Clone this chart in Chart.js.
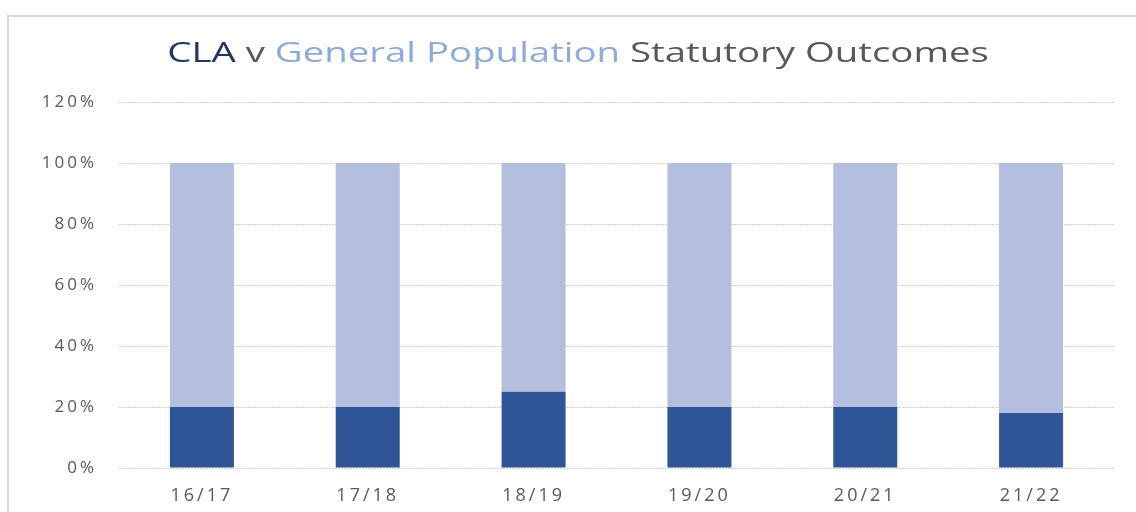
<!DOCTYPE html>
<html>
<head>
<meta charset="utf-8">
<script src="https://cdn.jsdelivr.net/npm/chart.js@4/dist/chart.umd.min.js"></script>
<style>
  html, body { margin: 0; padding: 0; background: #ffffff; }
  #wrap { position: relative; width: 1136px; height: 512px; overflow: hidden; background: #fff; }
  #frame { position: absolute; left: 7px; top: 15px; width: 1200px; height: 600px; border-top: 2px solid #d9d9d9; border-left: 2px solid #d9d9d9; box-sizing: border-box; }
  #title { position: absolute; left: 578px; top: 31px; white-space: nowrap; font-family: "Open Sans", sans-serif; font-size: 28px; line-height: 40px; color: #595959; transform: translateX(-50%) scaleX(1.37); transform-origin: center; }
  #title .cla { color: #1f3864; }
  #title .gen { color: #8eaadb; }
  canvas { position: absolute; left: 0; top: 0; }
</style>
</head>
<body>
<div id="wrap">
  <div id="frame"></div>
  <canvas id="c" width="1136" height="512"></canvas>
  <div id="title"><span class="cla">CLA</span> v <span class="gen">General Population</span> Statutory Outcomes</div>
</div>
<script>
const categories = ["16/17", "17/18", "18/19", "19/20", "20/21", "21/22"];
const claValues = [20, 20, 25, 20, 20, 18];
const generalValues = [80, 80, 75, 80, 80, 82];
const yTicks = [0, 20, 40, 60, 80, 100, 120];

const spacingPlugin = {
  id: 'spacing',
  beforeDraw(chart) { chart.ctx.letterSpacing = '3px'; },
  afterDraw(chart) { chart.ctx.letterSpacing = '0px'; }
};

new Chart(document.getElementById('c'), {
  type: 'bar',
  data: {
    labels: categories,
    datasets: [
      { label: 'CLA', data: claValues, backgroundColor: '#2f5597', borderWidth: 0 },
      { label: 'General Population', data: generalValues, backgroundColor: '#b4bfdf', borderWidth: 0 }
    ]
  },
  options: {
    responsive: false,
    animation: false,
    devicePixelRatio: 1,
    layout: { padding: { left: 0, right: 22, top: 102, bottom: 0 } },
    datasets: { bar: { barPercentage: 0.386, categoryPercentage: 1 } },
    plugins: { legend: { display: false }, tooltip: { enabled: false }, title: { display: false } },
    scales: {
      x: {
        stacked: true,
        grid: { display: false, drawTicks: false },
        border: { display: false },
        ticks: { color: '#595959', font: { family: 'Open Sans', size: 18 }, padding: 17, maxRotation: 0 },
        afterFit(s) { s.height = 44; }
      },
      y: {
        stacked: true,
        min: 0, max: 120,
        afterBuildTicks(s) { s.ticks = yTicks.map(v => ({ value: v })); },
        grid: { color: '#d0d0d0', lineWidth: 1, drawTicks: false },
        border: { display: false, dash: [2, 1] },
        ticks: { color: '#595959', font: { family: 'Open Sans', size: 17 }, padding: 22, callback: v => v + '%' },
        afterFit(s) { s.width = 119; }
      }
    }
  },
  plugins: [spacingPlugin]
});
</script>
</body>
</html>
